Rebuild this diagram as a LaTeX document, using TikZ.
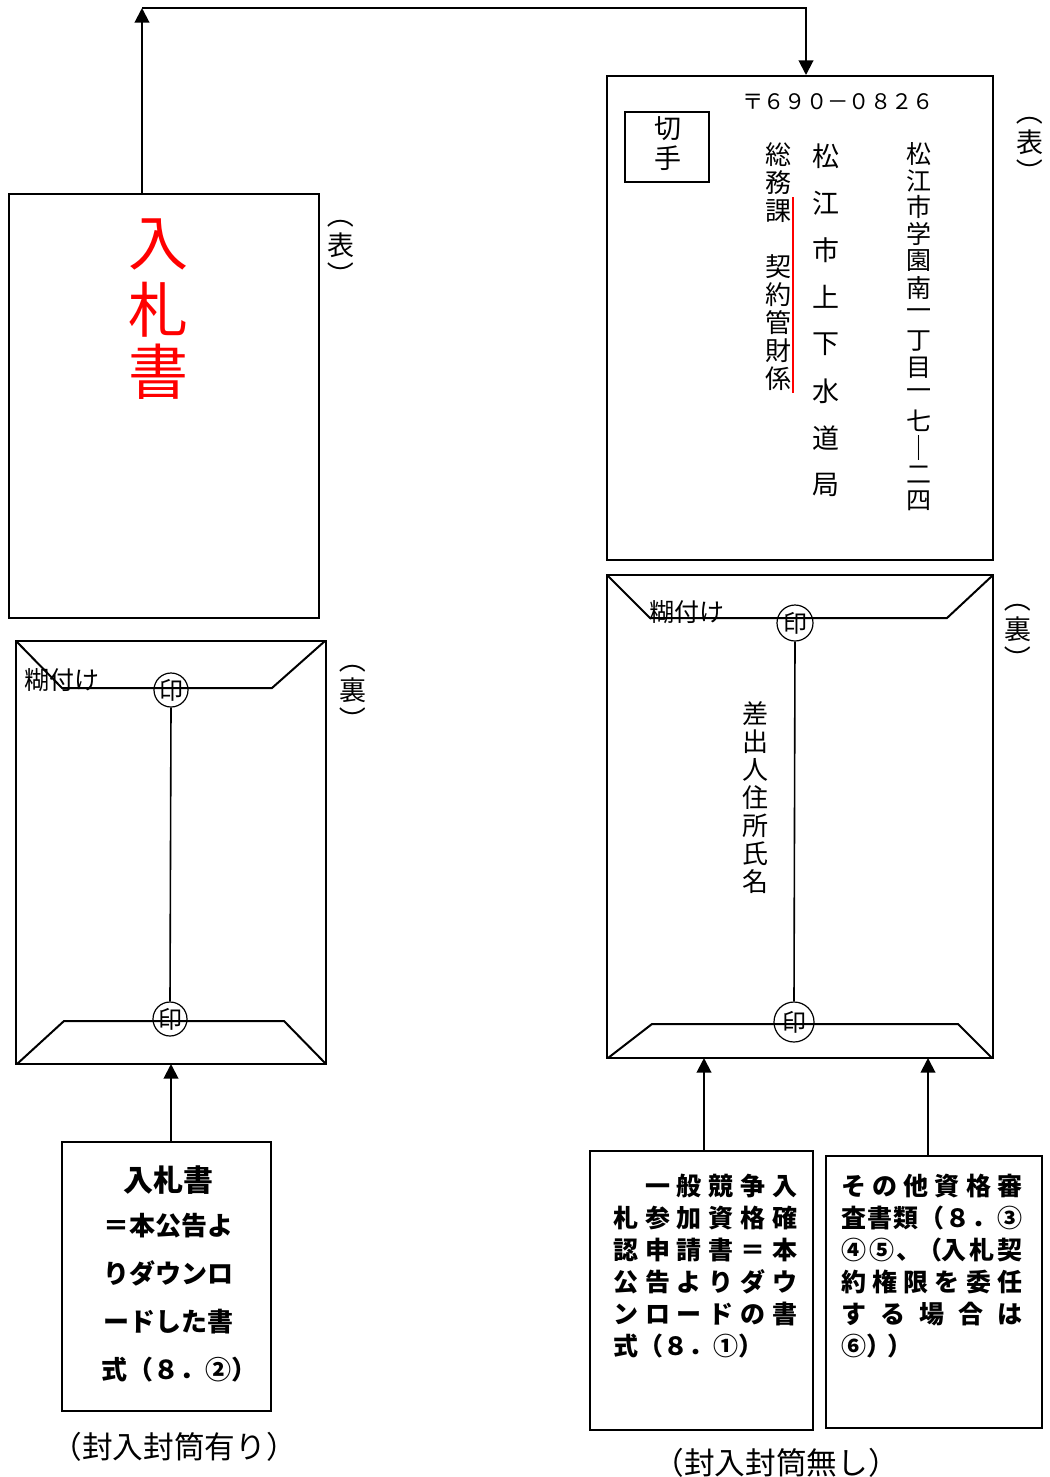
\documentclass[tikz,border=0pt]{standalone}
\usepackage{fontspec}
\setmainfont{Noto Sans CJK JP}
\usetikzlibrary{arrows.meta,fit}
\begin{document}
\begin{tikzpicture}[x=0.75pt,y=-0.75pt,
  box/.style={draw,line width=1.5pt,inner sep=0pt},
  ln/.style={line width=1.5pt},
  mid/.style={line width=1.2pt},
  arr/.style={line width=1.5pt,-{Triangle[length=11pt,width=11pt]}},
  ch/.style={inner sep=0pt},
  stamp/.style={circle,draw,line width=0.9pt,inner sep=0pt,font=\fontsize{18}{18}\selectfont},
  fA/.style={font=\fontsize{19.5}{19.5}\selectfont},
  fC/.style={font=\fontsize{18.75}{18.75}\selectfont},
  fB/.style={font=\fontsize{20.25}{20.25}\selectfont},
  fP/.style={font=\fontsize{20.25}{20.25}\selectfont},
  fN/.style={font=\fontsize{18.75}{18.75}\selectfont},
  fbox/.style={font=\fontsize{18.75}{18.75}\selectfont\bfseries,inner sep=0pt,anchor=west},
  fleft/.style={font=\fontsize{19.5}{19.5}\selectfont\bfseries,inner sep=0pt},
  fcap/.style={font=\fontsize{23}{23}\selectfont,inner sep=0pt},
]
\useasboundingbox (0,0) rectangle (1049,1477);

% ---------- envelopes and boxes ----------
\node[box,fit={(9,194) (319,618)}] (fL) {};
\node[box,fit={(607,76) (993,560)}] (fR) {};
\node[box,fit={(16,641) (326,1064)}] (bL) {};
\node[box,fit={(607,575) (993,1058)}] (bR) {};
\node[box,fit={(625,112) (709,182)}] (st) {};
\node[box,fit={(62,1142) (271,1411)}] (tL) {};
\node[box,fit={(590,1151) (813,1430)}] (t1) {};
\node[box,fit={(826,1156) (1042,1428)}] (t2) {};

% ---------- top connector ----------
\coordinate (p) at (142,8);
\coordinate (q) at (806,8);
\draw[arr] (fL.north -| p) -- (p);
\draw[arr] (p) -- (q) -- (fR.north -| q);

% ---------- bottom arrows ----------
\coordinate (a0) at (171,1064);
\coordinate (a1) at (704,1058);
\coordinate (a2) at (928,1058);
\draw[arr] (tL.north -| a0) -- (a0);
\draw[arr] (t1.north -| a1) -- (a1);
\draw[arr] (t2.north -| a2) -- (a2);

% ---------- front left ----------
\foreach \c/\y [count=\i] in {入/244,札/310,書/372}
  \node[ch,text=red,font=\fontsize{45}{45}\selectfont] (r\i) at (158,\y) {\c};
\node[ch,fP,rotate=-90] (pl1) at (341,215) {（};
\node[ch,fP] (pl2) at (341,245) {表};
\node[ch,fP,rotate=-90] (pl3) at (341,275) {）};

% ---------- front right ----------
\node[ch,fB] (k1) at (668,129) {切};
\node[ch,fB] (k2) at (668,158) {手};
\node[ch,font=\fontsize{16}{16}\selectfont] (zip) at (838,102) {〒６９０－０８２６};
\foreach \c [count=\i from 0] in {松,江,市,学,園,南,一,丁,目,一,七,｜,二,四}
  \node[ch,fC] (ad\i) at (919,{154+26.7*\i}) {\c};
\foreach \c [count=\i from 0] in {松,江,市,上,下,水,道,局}
  \node[ch,fB] (nm\i) at (826,{156+47*\i}) {\c};
\foreach \c/\k in {総/0,務/1,課/2,契/4,約/5,管/6,財/7,係/8}
  \node[ch,fA] (dp\k) at (778,{155+28*\k}) {\c};
\coordinate (rl1) at (793,197);
\coordinate (rl2) at (793,393);
\draw[red,line width=1.2pt] (rl1) -- (rl2);
\node[ch,fP,rotate=-90] (pr1) at (1030,112) {（};
\node[ch,fP] (pr2) at (1030,142) {表};
\node[ch,fP,rotate=-90] (pr3) at (1030,172) {）};

% ---------- back left ----------
\draw[ln,line join=miter] (17,642) -- (62,688) -- (272,688) -- (325,641);
\draw[ln,line join=miter] (17,1064) -- (64,1021) -- (284,1021) -- (326,1064);
\node[ch,fN,anchor=west] (gl) at (24,680) {糊付け};
\node[stamp,minimum size=25.5pt] (s1) at (171,690) {印};
\node[stamp,minimum size=25.5pt] (s2) at (170,1019) {印};
\draw[mid] (s1.south) -- (s2.north);
\node[ch,fP,rotate=-90] (ql1) at (353,660) {（};
\node[ch,fP] (ql2) at (353,690) {裏};
\node[ch,fP,rotate=-90] (ql3) at (353,720) {）};

% ---------- back right ----------
\draw[ln,line join=miter] (608,576) -- (650,618) -- (947,618) -- (992,576);
\draw[ln,line join=miter] (608,1058) -- (652,1024) -- (958,1024) -- (992,1058);
\node[ch,fN,anchor=west] (gr) at (649,612) {糊付け};
\node[stamp,minimum size=27pt] (s3) at (795,623) {印};
\node[stamp,minimum size=30pt] (s4) at (794,1022) {印};
\draw[mid] (s3.south) -- (s4.north);
\foreach \c [count=\i from 0] in {差,出,人,住,所,氏,名}
  \node[ch,fA] (sd\i) at (755,{714+28*\i}) {\c};
\node[ch,fP,rotate=-90] (qr1) at (1018,599) {（};
\node[ch,fP] (qr2) at (1018,629) {裏};
\node[ch,fP,rotate=-90] (qr3) at (1018,659) {）};

% ---------- left text box ----------
\node[ch,font=\fontsize{22.5}{22.5}\selectfont\bfseries] (x1) at (168,1180) {入札書};
\node[fleft] (x2) at (168,1226) {＝本公告よ};
\node[fleft] (x3) at (168,1273) {りダウンロ};
\node[fleft] (x4) at (168,1322) {ードした書};
\node[fleft,anchor=west] (x5) at (101,1370) {式（８．②）};
\node[fcap] (c1) at (174,1447) {（封入封筒有り）};

% ---------- right text box 1 ----------
\node[fbox] (y1) at (613,1186) {\hbox to 138pt{\hphantom{一}\hfil 一\hfil 般\hfil 競\hfil 争\hfil 入}};
\node[fbox] (y2) at (613,1218) {\hbox to 138pt{札\hfil 参\hfil 加\hfil 資\hfil 格\hfil 確}};
\node[fbox] (y3) at (613,1250) {\hbox to 138pt{認\hfil 申\hfil 請\hfil 書\hfil ＝\hfil 本}};
\node[fbox] (y4) at (613,1282) {\hbox to 138pt{公\hfil 告\hfil よ\hfil り\hfil ダ\hfil ウ}};
\node[fbox] (y5) at (613,1314) {\hbox to 138pt{ン\hfil ロ\hfil ー\hfil ド\hfil の\hfil 書}};
\node[fbox] (y6) at (613,1346) {式（８．①）};
\node[fcap] (c2) at (776,1463) {（封入封筒無し）};

% ---------- right text box 2 ----------
\node[fbox] (z1) at (841,1186) {\hbox to 135.75pt{そ\hfil の\hfil 他\hfil 資\hfil 格\hfil 審}};
\node[fbox] (z2) at (841,1218) {\hbox to 135.75pt{査\hfil 書\hfil 類\hfil （\hfil ８\hfil ．\hfil ③}};
\node[fbox] (z3) at (841,1250) {\hbox to 135.75pt{④\hfil ⑤\hfil 、\kern-5pt\hfil （\kern-3pt\hfil 入\hfil 札\hfil 契}};
\node[fbox] (z4) at (841,1282) {\hbox to 135.75pt{約\hfil 権\hfil 限\hfil を\hfil 委\hfil 任}};
\node[fbox] (z5) at (841,1314) {\hbox to 135.75pt{す\hfil る\hfil 場\hfil 合\hfil は}};
\node[fbox] (z6) at (841,1346) {⑥）\kern-3pt）};
\end{tikzpicture}
\end{document}
